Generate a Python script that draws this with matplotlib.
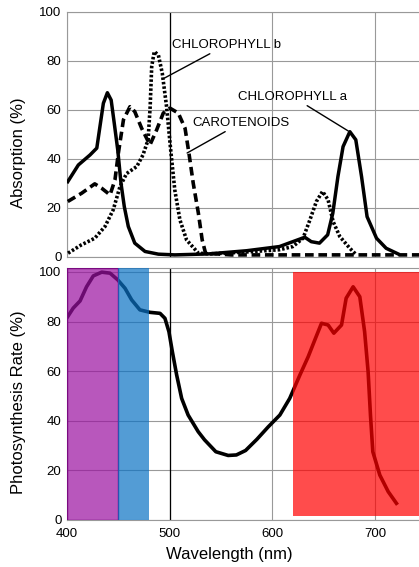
import numpy as np
import matplotlib
matplotlib.use("Agg")
import matplotlib.pyplot as plt

plt.rcParams["font.family"] = ["Liberation Sans", "DejaVu Sans"]

# absorption spectra
chla_x = [400.7, 411, 422.4, 429, 432, 435.4, 439.3, 443, 446, 449.4, 452.6, 455.8,
          459.7, 466, 476, 489, 505, 538, 575, 607, 620, 631.7, 638, 646, 654, 659,
          664, 669, 675.6, 681.4, 687, 692.4, 701.6, 711, 722.6]
chla_y = [30.7, 37.5, 41.6, 44.4, 53, 62.7, 67, 64, 54.6, 43.7, 30, 20.5,
          12.4, 5.6, 2.2, 1.1, 0.8, 1.2, 2.5, 4.2, 6.2, 8, 6.2, 5.6, 9, 17.8,
          32.8, 45, 51.1, 47.8, 32.8, 16.4, 7.6, 3.5, 1.2]

chlb_x = [401, 414, 427, 437, 445, 451.6, 458, 468, 474, 479, 481, 482.5, 485, 489,
          492.8, 497, 501, 505, 510, 516.5, 528, 540, 575, 607, 620, 630, 636.6,
          643, 649, 654.4, 659.3, 665.8, 675.6, 682]
chlb_y = [1.5, 4.9, 7.6, 12.4, 19.2, 28.7, 34, 36.9, 41.6, 47.8, 61.3, 77.7, 83.8, 82.4,
          75, 61.3, 43.7, 27.3, 15.1, 6.9, 1.5, 1.2, 2, 2.9, 4.2, 7.6, 15,
          22.6, 26.7, 23.3, 14.4, 8.3, 3.5, 0.8]

car_x = [400.7, 414.3, 427, 433.8, 441.9, 446.7, 450, 455, 461.3, 466, 472.7, 480.8,
         487.3, 493.8, 500.3, 508.4, 515, 518.8, 523, 528, 531.7, 535, 560, 743]
car_y = [22.6, 26, 29.8, 28, 25.3, 31.4, 42.3, 56, 61.3, 59.3, 52.5, 45.7,
         51.8, 58.7, 60.7, 58.7, 52.5, 42.3, 30, 17.8, 6.9, 1.5, 0.8, 0.8]

# photosynthesis action spectrum
ps_x = [400.7, 406, 412.7, 419, 425.6, 433.8, 441.9, 449.4, 456.5, 463, 471, 480.8,
        490.6, 495.4, 499.3, 502.6, 506.8, 511.7, 518, 527.8, 534, 545, 557, 565,
        574, 585, 596, 607.4, 617, 627, 635, 641.5, 648, 654.4, 660, 667.5, 672,
        678.8, 685.3, 690, 693.4, 695.7, 698, 704.8, 713, 721]
ps_y = [82, 85.4, 88.3, 94, 98.4, 99.9, 99.5, 96.8, 93.4, 88.7, 84.7, 83.7,
        83.3, 81.3, 75.9, 67.9, 58.5, 49, 42.3, 35.6, 32.3, 27.5, 26, 26.2,
        28, 32.5, 37.5, 42.3, 49, 58.5, 65.8, 72.6, 79.3, 78.6, 75.3, 78.6, 89.4,
        94, 90, 75.9, 59.8, 42.3, 27.5, 18.1, 11.4, 6.7]

# coloured bands: (start, end, bottom, top, colour, edge)
bands = [
    (400, 450, 0, 101.5, "#9a10a0", "#7a0a80"),
    (450, 480, 0, 101.5, "#0a72c4", None),
    (620, 743, 1.5, 100, "#ff0000", None),
]

xticks = [400, 500, 600, 700]
yticks = [0, 20, 40, 60, 80, 100]

fig = plt.figure(figsize=(4.19, 5.67), dpi=100)
ax1 = fig.add_axes([0.160, 0.547, 0.840, 0.432])
ax2 = fig.add_axes([0.160, 0.083, 0.840, 0.444])

for ax in (ax1, ax2):
    ax.set_xlim(400, 743)
    ax.set_xticks(xticks)
    ax.set_yticks(yticks)
    ax.tick_params(length=0, labelsize=9.5, pad=4)
    ax.tick_params(axis="x", pad=6)
    ax.grid(True, color="#999999", lw=0.8)
    ax.axvline(500, color="black", lw=0.9, zorder=2)
    for side in ("left", "bottom", "top"):
        ax.spines[side].set_color("#999999")
    ax.spines["right"].set_visible(False)

ax1.set_ylim(0, 100)
ax1.set_xticklabels([])
ax1.plot(chla_x, chla_y, color="black", lw=2.5, solid_joinstyle="round", zorder=3)
ax1.plot(chlb_x, chlb_y, color="black", lw=2.6, ls=(0, (0.7, 0.55)), zorder=3)
ax1.plot(car_x, car_y, color="black", lw=2.6, ls=(0, (2.4, 1.3)), zorder=3)

ann = dict(fontsize=9.5, color="black",
           arrowprops=dict(arrowstyle="-", color="black", lw=1.0, shrinkA=0, shrinkB=0))
ax1.annotate("CHLOROPHYLL b", xy=(495, 73), xytext=(502, 86.5), va="center", **ann)
ax1.annotate("CAROTENOIDS", xy=(517, 42.4), xytext=(522, 54.7), va="center", **ann)
ax1.annotate("CHLOROPHYLL a", xy=(674, 51.4), xytext=(567, 65.3), va="center", **ann)

ax2.set_ylim(0, 101.5)
ax2.plot(ps_x, ps_y, color="black", lw=2.6, solid_joinstyle="round", zorder=3)
for x0, x1, y0, y1, col, edge in bands:
    ax2.fill_between([x0, x1], y0, y1, color=col, alpha=0.7, lw=0, zorder=4)
    if edge:
        ax2.fill_between([x0, x1], y0, y1, facecolor="none", edgecolor=edge,
                         lw=1.0, zorder=4)

fig.text(19 / 419, 1 - 153 / 567, "Absorption (%)", rotation=90,
         ha="center", va="center", fontsize=12)
fig.text(19 / 419, 1 - 402 / 567, "Photosynthesis Rate (%)", rotation=90,
         ha="center", va="center", fontsize=12)
fig.text(229 / 419, 1 - 555 / 567, "Wavelength (nm)", ha="center", va="center",
         fontsize=12)

fig.savefig("out.png", dpi=100)
